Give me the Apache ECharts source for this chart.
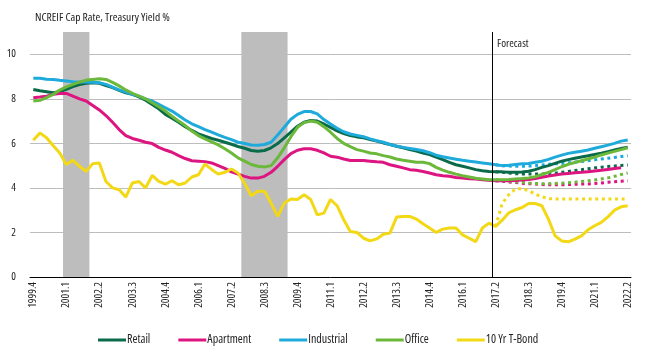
<!DOCTYPE html>
<html><head><meta charset="utf-8">
<script src="https://cdn.jsdelivr.net/npm/echarts@6/dist/echarts.min.js"></script>
<style>html,body{margin:0;padding:0;background:#fff}#c{width:646px;height:361px}</style>
</head><body><div id="c"></div><script>
// ---- pick a condensed font available locally ----
const probe = 'NCREIF Cap Rate, Treasury Yield %';
const mctx = document.createElement('canvas').getContext('2d');
function mw(f) { mctx.font = f; return mctx.measureText(probe).width; }
const fontOpts = [
  { st: '', fam: "'Liberation Sans Narrow'" },
  { st: 'condensed', fam: "'Open Sans'" },
  { st: 'condensed', fam: "'DejaVu Sans'" },
  { st: 'condensed', fam: "'Noto Sans'" },
  { st: '', fam: "'DejaVu Sans Condensed'" },
  { st: '', fam: "'Liberation Sans'" }
];
const mono = mw('11px monospace');
let best = { st: '', fam: "'Liberation Sans'", w: 999 };
fontOpts.forEach(o => {
  const wv = mw((o.st ? o.st + ' ' : '') + '11px ' + o.fam + ', monospace');
  if (Math.abs(wv - mono) > 0.5 && Math.abs(wv - 137) < Math.abs(best.w - 137)) best = { st: o.st, fam: o.fam, w: wv };
});
const FONT = best.fam + ", sans-serif";
const FW = best.st || 'normal';

// Quarterly categories 1999.4 .. 2022.2
const categories = [];
for (let y = 1999; y <= 2022; y++) {
  for (let q = 1; q <= 4; q++) {
    if ((y === 1999 && q < 4) || (y === 2022 && q > 2)) continue;
    categories.push(y + '.' + q);
  }
}
const yTicks = [0, 2, 4, 6, 8, 10];
const recessions = [['2001.1', '2001.4'], ['2007.4', '2009.2']];
const forecastStart = '2017.2';

const retail = [8.42,8.36,8.32,8.27,8.32,8.43,8.55,8.64,8.7,8.72,
  8.7,8.6,8.5,8.38,8.27,8.2,8.09,7.94,7.75,7.55,
  7.3,7.13,6.95,6.75,6.58,6.43,6.32,6.22,6.14,6.05,
  5.96,5.86,5.78,5.68,5.65,5.68,5.8,5.99,6.25,6.5,
  6.77,6.95,7.03,7.0,6.87,6.72,6.56,6.44,6.35,6.29,
  6.25,6.17,6.1,6.02,5.95,5.87,5.8,5.72,5.65,5.57,
  5.5,5.38,5.27,5.15,5.04,4.97,4.9,4.82,4.77,4.74,
  4.73,4.72,4.7,4.7,4.71,4.75,4.82,4.92,5.0,5.1,
  5.2,5.27,5.33,5.39,5.44,5.5,5.56,5.63,5.7,5.77,
  5.83];
const apartment = [8.05,8.08,8.12,8.2,8.24,8.24,8.12,8.0,7.9,7.7,
  7.5,7.25,6.95,6.62,6.35,6.22,6.14,6.05,5.99,5.82,
  5.7,5.6,5.45,5.32,5.22,5.2,5.18,5.12,5.0,4.88,
  4.72,4.62,4.52,4.44,4.44,4.52,4.7,4.97,5.27,5.54,
  5.69,5.76,5.76,5.69,5.57,5.42,5.38,5.3,5.23,5.23,
  5.23,5.2,5.17,5.15,5.04,4.97,4.9,4.82,4.79,4.74,
  4.67,4.59,4.55,4.52,4.47,4.44,4.41,4.4,4.37,4.34,
  4.32,4.32,4.32,4.33,4.35,4.38,4.42,4.48,4.53,4.58,
  4.62,4.65,4.68,4.7,4.73,4.76,4.79,4.83,4.87,4.9,
  null];
const industrial = [8.92,8.92,8.88,8.87,8.83,8.8,8.77,8.75,8.75,8.74,
  8.72,8.65,8.52,8.4,8.3,8.2,8.12,8.0,7.9,7.75,
  7.6,7.45,7.25,7.05,6.88,6.75,6.62,6.5,6.38,6.27,
  6.17,6.05,5.99,5.93,5.92,5.95,6.05,6.38,6.72,7.08,
  7.3,7.43,7.43,7.32,7.07,6.87,6.68,6.52,6.42,6.36,
  6.3,6.2,6.12,6.05,5.95,5.88,5.82,5.77,5.72,5.67,
  5.58,5.47,5.4,5.34,5.29,5.24,5.2,5.16,5.12,5.08,
  5.04,5.0,5.02,5.05,5.08,5.1,5.15,5.2,5.28,5.38,
  5.47,5.55,5.6,5.65,5.7,5.78,5.85,5.92,6.0,6.1,
  6.15];
const office = [7.9,7.93,8.05,8.2,8.39,8.54,8.65,8.75,8.84,8.87,
  8.9,8.87,8.74,8.58,8.4,8.25,8.12,8.0,7.82,7.64,
  7.45,7.22,7.0,6.8,6.55,6.35,6.2,6.07,5.93,5.76,
  5.57,5.35,5.2,5.05,4.97,4.94,5.0,5.35,5.8,6.3,
  6.72,6.93,7.0,6.95,6.75,6.5,6.22,6.0,5.85,5.72,
  5.65,5.57,5.53,5.45,5.39,5.3,5.24,5.2,5.15,5.15,
  5.09,4.92,4.8,4.7,4.62,4.55,4.49,4.43,4.4,4.37,
  4.37,4.37,4.38,4.4,4.42,4.45,4.5,4.6,4.7,4.82,
  4.95,5.06,5.14,5.22,5.3,5.38,5.48,5.56,5.64,5.72,
  5.8];
const tbond = [6.14,6.47,6.25,5.9,5.57,5.05,5.24,4.97,4.74,5.09,
  5.12,4.29,4.0,3.92,3.59,4.22,4.29,4.0,4.56,4.29,
  4.17,4.32,4.14,4.22,4.49,4.59,5.07,4.83,4.62,4.7,
  4.85,4.67,4.2,3.65,3.85,3.85,3.32,2.72,3.32,3.5,
  3.48,3.69,3.48,2.79,2.87,3.48,3.2,2.57,2.04,2.0,
  1.74,1.62,1.71,1.92,1.97,2.69,2.72,2.72,2.6,2.39,
  2.2,2.0,2.15,2.2,2.2,1.89,1.74,1.59,2.2,2.42,
  2.27,2.55,2.88,3.02,3.12,3.3,3.3,3.2,2.6,1.85,
  1.62,1.58,1.7,1.85,2.12,2.3,2.45,2.7,3.0,3.15,
  3.2];

// Alternative forecast scenario (dotted), from 2017.2 onward
const retailAlt = [4.73,4.7,4.67,4.64,4.63,4.62,4.62,4.62,4.63,4.66,4.7,4.74,4.78,4.82,4.86,4.9,4.93,4.96,4.98,5.01,5.03];
const apartmentAlt = [4.32,4.3,4.27,4.24,4.21,4.19,4.17,4.15,4.14,4.14,4.14,4.15,4.16,4.17,4.18,4.2,4.22,4.25,4.28,4.3,4.32];
const industrialAlt = [5.04,5.0,4.98,4.97,4.97,4.98,5.0,5.03,5.06,5.08,5.1,5.13,5.16,5.19,5.22,5.26,5.3,5.33,5.37,5.41,5.45];
const officeAlt = [4.37,4.33,4.3,4.28,4.25,4.22,4.2,4.19,4.19,4.2,4.21,4.23,4.26,4.29,4.32,4.36,4.4,4.45,4.52,4.6,4.67];
const tbondAlt = [2.27,3.3,3.7,3.95,3.97,3.88,3.72,3.6,3.52,3.5,3.5,3.5,3.5,3.5,3.5,3.5,3.5,3.5,3.5,3.5,3.5];

const names = ['Retail', 'Apartment', 'Industrial', 'Office', '10 Yr T-Bond'];
const colors = ['#0a6b4a', '#dc1580', '#1eaadb', '#6cb83a', '#f3d816'];
const mains = [retail, apartment, industrial, office, tbond];
const alts = [retailAlt, apartmentAlt, industrialAlt, officeAlt, tbondAlt];

const fIdx = categories.indexOf(forecastStart);
const pad = arr => new Array(fIdx).fill(null).concat(arr);

const series = [];
series.push({
  type: 'line', xAxisIndex: 1, data: [], z: 1, silent: true,
  markArea: {
    silent: true,
    itemStyle: { color: '#bdbdbd' },
    data: recessions.map(r => [{ xAxis: categories.indexOf(r[0]) }, { xAxis: categories.indexOf(r[1]) + 1 }])
  }
});
alts.forEach((a, k) => series.push({
  name: names[k] + ' alt', type: 'line', data: pad(a), symbol: 'none', z: 3,
  lineStyle: { color: colors[k], width: 3, type: [3, 3.6] }, itemStyle: { color: colors[k] }
}));
mains.forEach((m, k) => series.push({
  name: names[k], type: 'line', data: m, symbol: 'none', z: 4,
  lineStyle: { color: colors[k], width: 3 }, itemStyle: { color: colors[k] }
}));
series.push({
  type: 'line', xAxisIndex: 1, data: [], z: 10, silent: true,
  markLine: {
    silent: true, symbol: 'none', animation: false,
    label: { show: false },
    lineStyle: { color: '#000', width: 1, type: 'solid' },
    data: [{ xAxis: fIdx }]
  }
});

const chart = echarts.init(document.getElementById('c'), null, { renderer: 'canvas' });
chart.setOption({
  animation: false,
  textStyle: { fontFamily: FONT, fontWeight: FW },
  title: {
    text: 'NCREIF Cap Rate, Treasury Yield %', left: 35, top: 12, padding: 0,
    textStyle: { fontFamily: FONT, fontSize: 11.5, fontWeight: FW, color: '#222' }
  },
  grid: { left: 30, right: 15, top: 32, bottom: 84 },
  legend: {
    data: names, left: 98, top: 334, padding: 0, icon: 'rect', itemWidth: 28, itemHeight: 3, itemGap: 28,
    textStyle: { fontFamily: FONT, fontWeight: FW, fontSize: 12, color: '#222', padding: [0, 0, 0, -4] }
  },
  xAxis: [{
    type: 'category', data: categories, boundaryGap: true,
    axisLine: { lineStyle: { color: '#000', width: 1 } },
    axisTick: { interval: 0, length: 5, lineStyle: { color: '#000' } },
    axisLabel: { interval: 4, rotate: 90, fontSize: 11, margin: 5, color: '#222', fontFamily: FONT, fontWeight: FW },
    splitLine: { show: false }
  }, {
    type: 'value', min: 0, max: categories.length, show: false
  }],
  yAxis: {
    type: 'value', min: yTicks[0], max: 11, interval: 2,
    axisLine: { show: false }, axisTick: { show: false },
    axisLabel: { fontSize: 11, margin: 14, color: '#222', fontFamily: FONT, fontWeight: FW, showMaxLabel: false },
    splitLine: { showMaxLine: false, lineStyle: { color: '#bdbdbd', width: 1 } }
  },
  graphic: [{
    type: 'text', left: 497, top: 38,
    style: { text: 'Forecast', font: (FW === 'normal' ? '' : FW + ' ') + '11px ' + FONT, fill: '#222' }
  }],
  series: series
});
</script></body></html>
